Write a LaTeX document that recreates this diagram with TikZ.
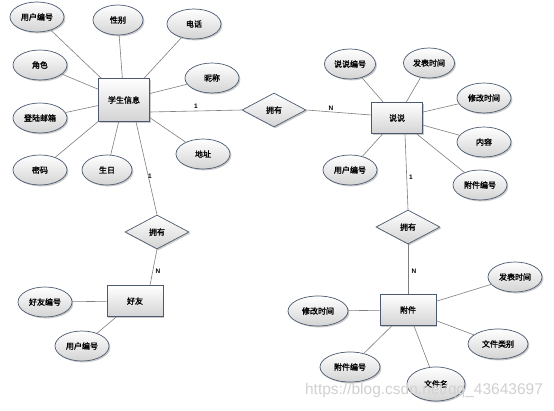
\documentclass[tikz,border=0pt]{standalone}
\usepackage{fontspec}
\setmainfont{Liberation Sans}
\newfontfamily\cjk{Noto Sans CJK SC}[AutoFakeBold=1.5]
\usetikzlibrary{shapes.geometric,shadows}
\definecolor{edgeblue}{HTML}{4A5A70}
\definecolor{linegray}{HTML}{7F7F7F}
\tikzset{
  base/.style={draw=edgeblue, line width=0.7pt, top color=white, bottom color=black!17,
    font=\cjk\bfseries\fontsize{8}{9}\selectfont, text=black,
    drop shadow={shadow xshift=1.4pt, shadow yshift=-1.4pt, fill=black!45, opacity=0.45}},
  attr/.style={base, ellipse, minimum width=54pt, minimum height=30pt, inner sep=0pt},
  ent/.style={base, rectangle, minimum width=54pt, minimum height=32pt, inner sep=0pt},
  rel/.style={base, diamond, minimum width=64pt, minimum height=34pt, inner sep=0pt},
  link/.style={draw=linegray, line width=0.6pt},
  card/.style={font=\bfseries\fontsize{6.5}{7}\selectfont, text=black, inner sep=0pt}
}
\begin{document}
\begin{tikzpicture}[x=1pt,y=-1pt]
\useasboundingbox[fill=white] (0,0) rectangle (554,410);
% student
\node[ent, minimum width=51pt, minimum height=43pt] (stu) at (124,100) {学生信息};
\node[attr] (s1) at (37,17) {用户编号};
\node[attr, minimum width=50pt] (s2) at (118,20) {性别};
\node[attr] (s3) at (194,24) {电话};
\node[attr] (s4) at (40,65) {角色};
\node[attr] (s5) at (212,78) {昵称};
\node[attr] (s6) at (40,118) {登陆邮箱};
\node[attr] (s7) at (40,170) {密码};
\node[attr, minimum width=50pt] (s8) at (107,170) {生日};
\node[attr] (s9) at (203,154) {地址};
% shuoshuo
\node[ent, minimum width=51pt, minimum height=31pt] (ss) at (397,118) {说说};
\node[attr, minimum width=51pt] (t1) at (350,64) {说说编号};
\node[attr, minimum width=51pt] (t2) at (429,63) {发表时间};
\node[attr] (t3) at (484,98) {修改时间};
\node[attr] (t4) at (484,142) {内容};
\node[attr] (t5) at (480,185) {附件编号};
\node[attr] (t6) at (350,170) {用户编号};
% friend
\node[ent, minimum width=56pt, minimum height=31pt] (hy) at (135,301) {好友};
\node[attr] (f1) at (45,302) {好友编号};
\node[attr] (f2) at (82,346) {用户编号};
% attachment
\node[ent, minimum width=56pt, minimum height=31pt] (fj) at (408,310) {附件};
\node[attr] (a1) at (515,277) {发表时间};
\node[attr, minimum width=60pt] (a2) at (318,311) {修改时间};
\node[attr, minimum width=60pt] (a3) at (498,344) {文件类别};
\node[attr, minimum width=60pt] (a4) at (350,367) {附件编号};
\node[attr, minimum width=58pt, minimum height=34pt] (a5) at (436,384) {文件名};
% relationships
\node[rel] (d1) at (274,110) {拥有};
\node[rel] (d2) at (157,232) {拥有};
\node[rel] (d3) at (408,227) {拥有};
% connectors
\foreach \a in {s1,s2,s3,s4,s5,s6,s7,s8,s9} \draw[link] (stu) -- (\a);
\foreach \a in {t1,t2,t3,t4,t5,t6} \draw[link] (ss) -- (\a);
\foreach \a in {f1,f2} \draw[link] (hy) -- (\a);
\foreach \a in {a1,a2,a3,a4,a5} \draw[link] (fj) -- (\a);
\draw[link] ([yshift=-12pt]stu.east) -- (d1.west);
\draw[link] (d1.east) -- ([yshift=3pt]ss.west);
\draw[link] ([xshift=12pt]stu.south) -- (d2.north);
\draw[link] (d2.south) -- ([xshift=15pt]hy.north);
\draw[link] ([xshift=8pt]ss.south) -- (d3.north);
\draw[link] (d3.south) -- (fj.north);
% cardinalities
\node[card] (c1) at (196,106) {1};
\node[card] (c2) at (331,108) {N};
\node[card] (c3) at (150,176) {1};
\node[card] (c4) at (158,271) {N};
\node[card] (c5) at (411,177) {1};
\node[card] (c6) at (414,271) {N};
% watermark
\node[text=black!18, font=\fontsize{15.5}{15.5}\selectfont, inner sep=0pt] (wm) at (424,390) {https://blog.csdn.net/qq\_43643697};
\end{tikzpicture}
\end{document}
